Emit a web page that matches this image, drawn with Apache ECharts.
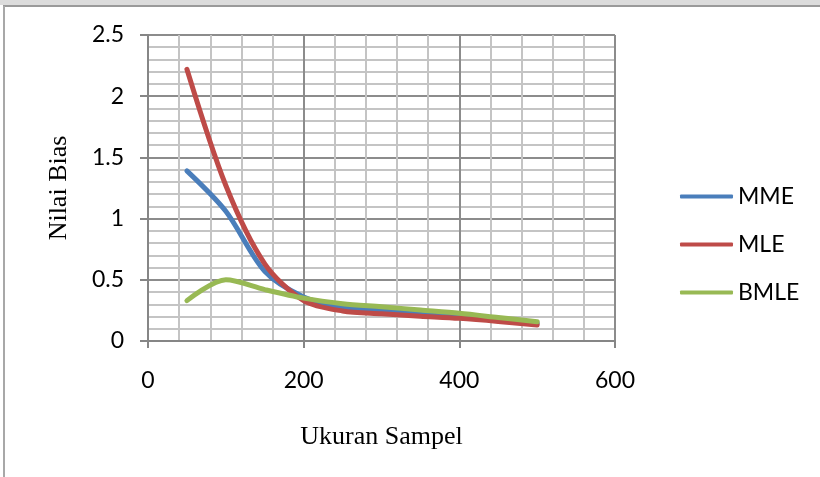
<!DOCTYPE html>
<html>
<head>
<meta charset="utf-8">
<script src="https://cdn.jsdelivr.net/npm/echarts@6/dist/echarts.min.js"></script>
<style>
  html, body { margin: 0; padding: 0; background: #ffffff; }
  #chart { width: 820px; height: 477px; }
</style>
</head>
<body>
<div id="chart"></div>
<script>
// Sample sizes and bias values for each estimator
const sampleSizes = [50, 100, 150, 200, 250, 300, 350, 400, 450, 500];
const mme  = [1.39, 1.06, 0.57, 0.36, 0.275, 0.248, 0.226, 0.204, 0.176, 0.145];
const mle  = [2.22, 1.27, 0.63, 0.33, 0.245, 0.222, 0.203, 0.185, 0.160, 0.131];
const bmle = [0.33, 0.50, 0.42, 0.35, 0.305, 0.280, 0.253, 0.226, 0.192, 0.158];

const seriesNames = ['MME', 'MLE', 'BMLE'];
const seriesColors = ['#4a7ebb', '#be4b48', '#98b954'];
const seriesValues = [mme, mle, bmle];

const chart = echarts.init(document.getElementById('chart'), null, { renderer: 'canvas' });

const tickFont = { fontFamily: 'Lato, "Open Sans", sans-serif', fontSize: 23, color: '#000' };

chart.setOption({
  animation: false,
  backgroundColor: '#ffffff',
  grid: { left: 148, right: 205, top: 35, bottom: 136, containLabel: false },
  legend: {
    orient: 'vertical',
    left: 675,
    top: 180,
    itemWidth: 53,
    itemHeight: 4,
    itemGap: 25,
    icon: 'roundRect',
    textStyle: { fontFamily: 'Lato, "Open Sans", sans-serif', fontSize: 23, color: '#000', padding: [0, 0, 0, 0] },
    data: seriesNames
  },
  xAxis: {
    type: 'value',
    min: 0,
    max: 600,
    interval: 200,
    name: 'Ukuran Sampel',
    nameLocation: 'middle',
    nameGap: 83,
    nameTextStyle: { fontFamily: '"Liberation Serif", serif', fontSize: 26, color: '#000' },
    axisLine: { show: true, lineStyle: { color: '#868686', width: 2 } },
    axisTick: { show: true, length: 7, lineStyle: { color: '#868686', width: 2 } },
    axisLabel: Object.assign({ margin: 28 }, tickFont),
    splitLine: { show: true, lineStyle: { color: '#8c8c8c', width: 2 } },
    minorTick: { show: false, splitNumber: 5 },
    minorSplitLine: { show: true, lineStyle: { color: '#c4c4c4', width: 2 } }
  },
  yAxis: {
    type: 'value',
    min: 0,
    max: 2.5,
    interval: 0.5,
    name: 'Nilai Bias',
    nameLocation: 'middle',
    nameGap: 76,
    nameRotate: 90,
    nameTextStyle: { fontFamily: '"Liberation Serif", serif', fontSize: 26, color: '#000' },
    axisLine: { show: true, lineStyle: { color: '#868686', width: 2 } },
    axisTick: { show: true, length: 8, lineStyle: { color: '#868686', width: 2 } },
    axisLabel: Object.assign({ margin: 24 }, tickFont),
    splitLine: { show: true, lineStyle: { color: '#8c8c8c', width: 2 } },
    minorTick: { show: false, splitNumber: 5 },
    minorSplitLine: { show: true, lineStyle: { color: '#c4c4c4', width: 2 } }
  },
  graphic: [
    // frame around the chart
    { type: 'rect', shape: { x: 0, y: 0, width: 820, height: 5 }, style: { fill: '#dcdcdc' }, silent: true },
    { type: 'line', shape: { x1: 3, y1: 6, x2: 820, y2: 6 }, style: { stroke: '#9a9a9a', lineWidth: 2 }, silent: true },
    { type: 'line', shape: { x1: 4, y1: 6, x2: 4, y2: 477 }, style: { stroke: '#a8a8a8', lineWidth: 2 }, silent: true }
  ],
  series: seriesNames.map((name, i) => ({
    name: name,
    type: 'line',
    smooth: 0.3,
    showSymbol: false,
    symbol: 'none',
    data: sampleSizes.map((x, j) => [x, seriesValues[i][j]]),
    lineStyle: { color: seriesColors[i], width: 5, cap: 'round', join: 'round' },
    itemStyle: { color: seriesColors[i] }
  }))
});
</script>
</body>
</html>
